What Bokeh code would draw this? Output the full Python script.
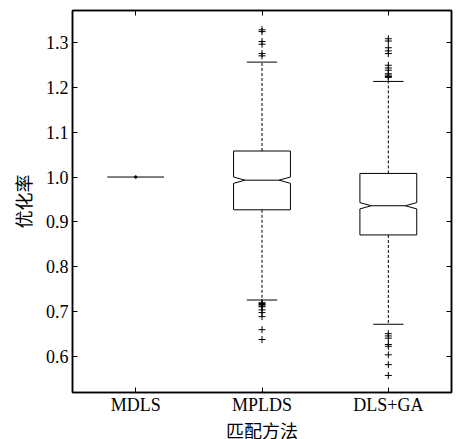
from bokeh.plotting import figure
from bokeh.models import FixedTicker, PrintfTickFormatter, LinearAxis, Range1d, CustomJSTickFormatter, Title
from bokeh.embed import file_html
from bokeh.resources import INLINE

categories = ["MDLS", "MPLDS", "DLS+GA"]
q1 = [1.0, 0.927, 0.871]
median = [1.0, 0.993, 0.936]
q3 = [1.0, 1.058, 1.008]
whisker_low = [1.0, 0.726, 0.672]
whisker_high = [1.0, 1.256, 1.213]
notch_half = [0.0, 0.007, 0.007]

outliers_mplds = [1.328, 1.324, 1.302, 1.296, 1.275, 1.270,
                  0.720, 0.718, 0.716, 0.713, 0.711, 0.704, 0.698, 0.689, 0.660, 0.638]
outliers_dlsga = [1.308, 1.303, 1.288, 1.281, 1.275, 1.249, 1.243, 1.238, 1.230, 1.227,
                  1.224, 1.222, 0.651, 0.646, 0.641, 0.627, 0.623, 0.604, 0.582, 0.558]

y_ticks = [0.6, 0.7, 0.8, 0.9, 1.0, 1.1, 1.2, 1.3]
x_title = "匹配方法"
y_title = "优化率"

BOX_W = 0.225
NOTCH_W = 0.135
CAP_W = 0.12

p = figure(width=456, height=439, output_backend="svg", toolbar_location=None,
           x_range=Range1d(0.5, 3.5), y_range=Range1d(0.52, 1.371),
           min_border_left=72, min_border_right=5, min_border_top=10, min_border_bottom=46)
p.grid.visible = False
p.background_fill_color = "white"
p.border_fill_color = "white"
p.outline_line_color = "black"
p.outline_line_width = 1.5

xs_pos = [i + 1 for i in range(len(categories))]

for i, x in enumerate(xs_pos):
    a, m, b, n = q1[i], median[i], q3[i], notch_half[i]
    if a == b:
        p.line([x - BOX_W, x + BOX_W], [m, m], line_color="black", line_width=1)
        p.scatter([x], [m], size=2.5, color="black")
        continue
    px = [x - BOX_W, x - BOX_W, x - NOTCH_W, x - BOX_W, x - BOX_W,
          x + BOX_W, x + BOX_W, x + NOTCH_W, x + BOX_W, x + BOX_W]
    py = [a, m - n, m, m + n, b, b, m + n, m, m - n, a]
    p.patch(px, py, fill_color="white", line_color="black", line_width=1)
    p.line([x - NOTCH_W, x + NOTCH_W], [m, m], line_color="black", line_width=1)
    p.line([x, x], [b, whisker_high[i]], line_color="black", line_width=1, line_dash="3 2")
    p.line([x, x], [a, whisker_low[i]], line_color="black", line_width=1, line_dash="3 2")
    p.line([x - CAP_W, x + CAP_W], [whisker_high[i]] * 2, line_color="black", line_width=1)
    p.line([x - CAP_W, x + CAP_W], [whisker_low[i]] * 2, line_color="black", line_width=1)

p.scatter([2] * len(outliers_mplds), outliers_mplds, marker="cross", size=7,
          line_color="black", line_width=1)
p.scatter([3] * len(outliers_dlsga), outliers_dlsga, marker="cross", size=7,
          line_color="black", line_width=1)

serif = "Liberation Serif"
cjk = "Noto Sans CJK SC"

xa = p.xaxis[0]
xa.ticker = FixedTicker(ticks=xs_pos)
xa.major_label_overrides = {xs_pos[i]: categories[i] for i in range(len(categories))}

ya = p.yaxis[0]
ya.ticker = FixedTicker(ticks=y_ticks)
ya.formatter = PrintfTickFormatter(format="%.1f")
ya.axis_label = y_title

for ax in (xa, ya):
    ax.major_tick_in = 5
    ax.major_tick_out = 0
    ax.minor_tick_line_color = None
    ax.axis_line_color = "black"
    ax.axis_line_width = 1.5
    ax.major_tick_line_color = "black"
    ax.major_label_text_font = serif
    ax.major_label_text_font_size = "18px"
    ax.major_label_text_color = "black"
    ax.axis_label_text_font = cjk
    ax.axis_label_text_font_size = "18px"
    ax.axis_label_text_font_style = "normal"
    ax.axis_label_text_color = "black"

xa.major_label_standoff = 2
ya.major_label_standoff = 4
ya.axis_label_standoff = 7

p.add_layout(Title(text=x_title, align="center", text_font=cjk, text_font_size="18px",
                   text_font_style="normal", text_color="black", standoff=-6, offset=6), "below")

top = LinearAxis(ticker=FixedTicker(ticks=xs_pos))
right = LinearAxis(ticker=FixedTicker(ticks=y_ticks))
for ax in (top, right):
    ax.major_tick_in = 5
    ax.major_tick_out = 0
    ax.minor_tick_line_color = None
    ax.axis_line_color = "black"
    ax.axis_line_width = 1.5
    ax.formatter = CustomJSTickFormatter(code="return ''")
    ax.major_label_text_font_size = "0px"
    ax.major_label_text_color = None
    ax.major_label_standoff = 0
    ax.axis_label_standoff = 0
p.add_layout(top, "above")
p.add_layout(right, "right")

open("out.html", "w").write(file_html(p, INLINE))
